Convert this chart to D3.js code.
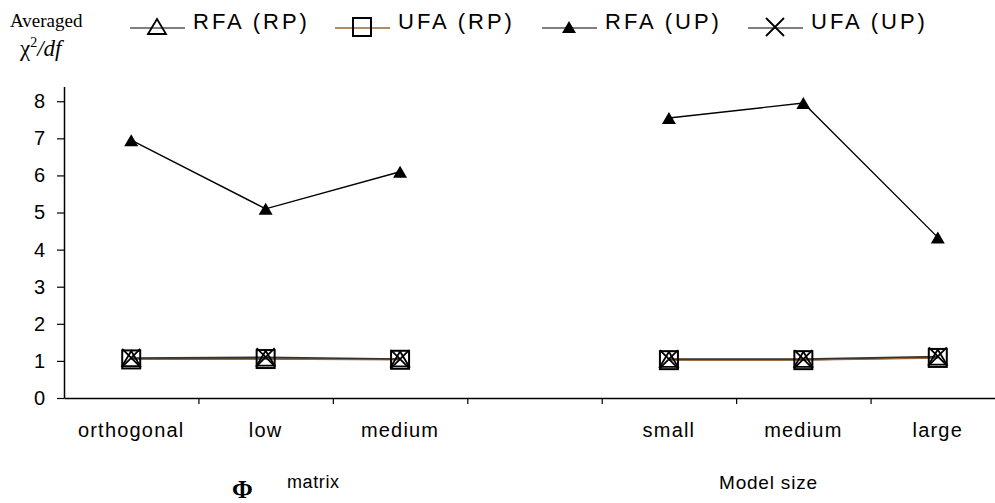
<!DOCTYPE html>
<html lang="en">
<head>
    <meta charset="UTF-8">
    <title>Averaged chi2/df</title>
    <script src="https://d3js.org/d3.v7.min.js"></script>
    <style>
        body { margin: 0; background: #fff; }
        text { font-family: "Liberation Sans", Arial, sans-serif; fill: #000; }
        .serif { font-family: "Liberation Serif", "Times New Roman", serif; }
    </style>
</head>
<body>
    <script>
        // categories (4th slot is an empty gap between the two groups)
        const categories = ["orthogonal", "low", "medium", "", "small", "medium", "large"];
        const yTicks = [0, 1, 2, 3, 4, 5, 6, 7, 8];

        const rfaRP = [1.05, 1.06, 1.04, null, 1.03, 1.03, 1.09];
        const ufaRP = [1.04, 1.05, 1.03, null, 1.02, 1.02, 1.08];
        const rfaUP = [6.95, 5.1, 6.1, null, 7.55, 7.95, 4.33];
        const ufaUP = [1.08, 1.1, 1.05, null, 1.05, 1.05, 1.12];

        const seriesNames = ["RFA (RP)", "UFA (RP)", "RFA (UP)", "UFA (UP)"];

        const width = 995;
        const height = 503;

        const svg = d3.select("body").append("svg")
            .attr("width", width)
            .attr("height", height);

        const x = d3.scaleBand()
            .domain(d3.range(categories.length))
            .range([64, 1005]);
        const xEdge = d3.scaleLinear()
            .domain([0, categories.length])
            .range([64, 1005]);
        const y = d3.scaleLinear()
            .domain([0, 8.4])
            .range([398, 86.4]);

        // y axis
        const yAxis = svg.append("g")
            .attr("transform", "translate(64,0)")
            .call(d3.axisLeft(y).tickValues(yTicks).tickSize(7).tickSizeOuter(0).tickPadding(12));
        yAxis.select(".domain").attr("stroke", "#000").attr("stroke-width", 1.5);
        yAxis.selectAll(".tick line").attr("stroke", "#000").attr("stroke-width", 1.2);
        yAxis.selectAll(".tick text")
            .style("font-family", "'Liberation Sans', Arial, sans-serif")
            .style("font-size", "20px")
            .attr("fill", "#000");

        // x axis: ticks sit on category boundaries
        const xAxis = svg.append("g")
            .attr("transform", "translate(0,398)")
            .call(d3.axisBottom(xEdge).tickValues(d3.range(1, categories.length + 1))
                .tickSize(6).tickSizeOuter(0).tickFormat(""));
        xAxis.select(".domain").attr("stroke", "#000").attr("stroke-width", 1.5);
        xAxis.selectAll(".tick line").attr("stroke", "#000").attr("stroke-width", 1.2);

        svg.append("g").selectAll("text")
            .data(categories)
            .join("text")
            .attr("x", (d, i) => x(i) + x.bandwidth() / 2)
            .attr("y", 437)
            .attr("text-anchor", "middle")
            .style("font-size", "20px")
            .style("letter-spacing", "1.2px")
            .text(d => d);

        // marker shapes
        function drawMarker(g, type, cx, cy) {
            if (type === "triOpen") {
                g.append("path")
                    .attr("d", `M${cx - 9},${cy + 7} L${cx},${cy - 8} L${cx + 9},${cy + 7} Z`)
                    .attr("fill", "none").attr("stroke", "#000").attr("stroke-width", 1.8);
            } else if (type === "square") {
                g.append("rect")
                    .attr("x", cx - 9).attr("y", cy - 9)
                    .attr("width", 18).attr("height", 18)
                    .attr("fill", "none").attr("stroke", "#000").attr("stroke-width", 2);
            } else if (type === "triFilled") {
                g.append("path")
                    .attr("d", `M${cx - 7},${cy + 6} L${cx},${cy - 6} L${cx + 7},${cy + 6} Z`)
                    .attr("fill", "#000");
            } else if (type === "cross") {
                g.append("path")
                    .attr("d", `M${cx - 9},${cy - 9} L${cx + 9},${cy + 9} M${cx - 9},${cy + 9} L${cx + 9},${cy - 9}`)
                    .attr("stroke", "#000").attr("stroke-width", 1.8);
            }
        }

        const series = [
            { name: seriesNames[0], values: rfaRP, color: "#222", marker: "triOpen" },
            { name: seriesNames[1], values: ufaRP, color: "#996633", marker: "square" },
            { name: seriesNames[2], values: rfaUP, color: "#000", marker: "triFilled" },
            { name: seriesNames[3], values: ufaUP, color: "#333", marker: "cross" }
        ];

        const line = d3.line()
            .defined(d => d != null)
            .x((d, i) => x(i) + x.bandwidth() / 2)
            .y(d => y(d));

        series.forEach(s => {
            svg.append("path")
                .datum(s.values)
                .attr("d", line)
                .attr("fill", "none")
                .attr("stroke", s.color)
                .attr("stroke-width", 1.4);
        });
        series.forEach(s => {
            const g = svg.append("g");
            s.values.forEach((v, i) => {
                if (v == null) return;
                drawMarker(g, s.marker, x(i) + x.bandwidth() / 2, y(v));
            });
        });

        // legend
        const legendX = [130, 335, 542, 748];
        series.forEach((s, i) => {
            const g = svg.append("g");
            g.append("line")
                .attr("x1", legendX[i]).attr("x2", legendX[i] + 55)
                .attr("y1", 28).attr("y2", 28)
                .attr("stroke", s.color === "#996633" ? s.color : "#555")
                .attr("stroke-width", 1.5);
            drawMarker(g, s.marker, legendX[i] + 27, 27);
            g.append("text")
                .attr("x", legendX[i] + 63)
                .attr("y", 29)
                .style("font-size", "22px")
                .style("letter-spacing", "3px")
                .text(s.name);
        });

        // y axis title
        svg.append("text")
            .attr("class", "serif")
            .attr("x", 10).attr("y", 27)
            .style("font-size", "19px")
            .text("Averaged");
        const chi = svg.append("text")
            .attr("class", "serif")
            .attr("x", 20).attr("y", 56)
            .style("font-size", "23px")
            .style("font-style", "italic");
        chi.append("tspan").style("font-style", "normal").text("χ");
        chi.append("tspan").attr("dy", -9).style("font-size", "14px").style("font-style", "normal").text("2");
        chi.append("tspan").attr("dy", 9).text("/df");

        // group titles
        svg.append("text")
            .attr("class", "serif")
            .attr("x", 232).attr("y", 498)
            .style("font-size", "25px")
            .style("font-weight", "bold")
            .text("Φ");
        svg.append("text")
            .attr("x", 287).attr("y", 488)
            .style("font-size", "18px")
            .style("letter-spacing", "0.6px")
            .text("matrix");
        svg.append("text")
            .attr("x", 719).attr("y", 489)
            .style("font-size", "19px")
            .style("letter-spacing", "0.8px")
            .text("Model size");
    </script>
</body>
</html>
